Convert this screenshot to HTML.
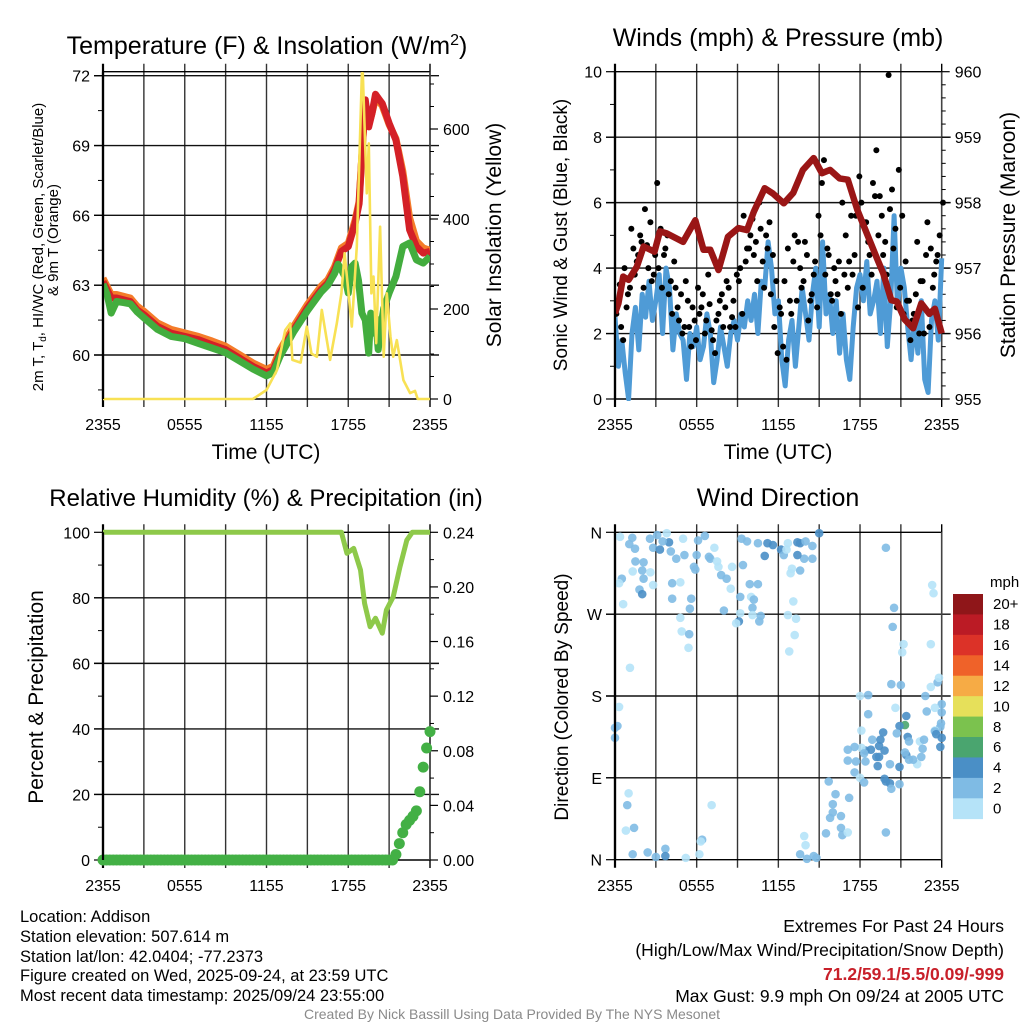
<!DOCTYPE html>
<html><head><meta charset="utf-8"><style>
html,body{margin:0;padding:0;background:#fff;}
svg text{font-family:"Liberation Sans",Arial,sans-serif;fill:#000;}
</style></head><body>
<svg id="chart" width="1024" height="1024" viewBox="0 0 1024 1024" xmlns="http://www.w3.org/2000/svg">
<rect width="1024" height="1024" fill="#fff"/>
<g id="g1"></g>
<g id="g2"></g>
<g id="g3"></g>
<g id="g4"></g>

<text x="267" y="54" font-size="25" text-anchor="middle">Temperature (F) &amp; Insolation (W/m<tspan dy="-9" font-size="16">2</tspan><tspan dy="9">)</tspan></text>
<text x="778" y="46" font-size="25" text-anchor="middle">Winds (mph) &amp; Pressure (mb)</text>
<text x="266" y="506" font-size="24" text-anchor="middle">Relative Humidity (%) &amp; Precipitation (in)</text>
<text x="778" y="506" font-size="25" text-anchor="middle">Wind Direction</text>

<text transform="translate(43,247) rotate(-90)" font-size="15" text-anchor="middle">2m T, T<tspan font-size="10" dy="3">d</tspan><tspan dy="-3">, HI/WC (Red, Green, Scarlet/Blue)</tspan></text>
<text transform="translate(58,240) rotate(-90)" font-size="15" text-anchor="middle">&amp; 9m T (Orange)</text>
<text transform="translate(501,235) rotate(-90)" font-size="21" text-anchor="middle">Solar Insolation (Yellow)</text>
<text transform="translate(567,235) rotate(-90)" font-size="19" text-anchor="middle">Sonic Wind &amp; Gust (Blue, Black)</text>
<text transform="translate(1015,235) rotate(-90)" font-size="21" text-anchor="middle">Station Pressure (Maroon)</text>
<text transform="translate(43,697) rotate(-90)" font-size="21" text-anchor="middle">Percent &amp; Precipitation</text>
<text transform="translate(568,697) rotate(-90)" font-size="19" text-anchor="middle">Direction (Colored By Speed)</text>
<text x="266" y="459" font-size="21" text-anchor="middle">Time (UTC)</text>
<text x="778" y="459" font-size="21" text-anchor="middle">Time (UTC)</text>

<g font-size="16.5">
<text x="20" y="922">Location: Addison</text>
<text x="20" y="942">Station elevation: 507.614 m</text>
<text x="20" y="962">Station lat/lon: 42.0404; -77.2373</text>
<text x="20" y="981">Figure created on Wed, 2025-09-24, at 23:59 UTC</text>
<text x="20" y="1001">Most recent data timestamp: 2025/09/24 23:55:00</text>
</g>
<g font-size="17.5" text-anchor="end">
<text x="1004" y="932">Extremes For Past 24 Hours</text>
<text x="1004" y="956">(High/Low/Max Wind/Precipitation/Snow Depth)</text>
<text x="1004" y="980" font-weight="bold" style="fill:#c8202a">71.2/59.1/5.5/0.09/-999</text>
<text x="1004" y="1002">Max Gust: 9.9 mph On 09/24 at 2005 UTC</text>
</g>
<text x="512" y="1019" font-size="14" text-anchor="middle" style="fill:#8a8a8a">Created By Nick Bassill Using Data Provided By The NYS Mesonet</text>
</svg>
<script>
// ---------- data ----------
const tempTimes=[0,0.3,0.6,1,1.5,2,2.5,3,4,5,6,7,8,9,10,11,12,12.5,13,14,15,16,16.5,17,17.5,18,18.5,18.8,19.05,19.25,19.5,19.75,20,20.25,20.5,21,21.5,22,22.5,23,23.5,24];
const tempF=[63.16,62.8,62.45,62.45,62.37,62.3,61.94,61.73,61.23,60.94,60.8,60.66,60.44,60.23,59.87,59.51,59.23,59.37,60.08,61.09,62.02,62.8,63.09,63.66,64.45,64.66,65.66,66.5,69.1,70.96,69.8,70.4,71.2,71.0,70.8,69.96,69.24,67.67,65.38,64.66,64.38,64.45];
const temp9mF=[63.3,62.95,62.6,62.6,62.52,62.45,62.1,61.88,61.38,61.1,60.95,60.8,60.6,60.38,60.02,59.66,59.38,59.52,60.23,61.24,62.17,62.95,63.24,63.8,64.6,64.8,65.8,66.6,69.1,70.8,69.9,70.4,71.0,70.9,70.7,69.9,69.3,67.9,65.9,64.9,64.6,64.5];
const dewTimes=[0,0.3,0.6,1,1.5,2,2.5,3,4,5,6,7,8,9,10,11,12,12.5,13,14,15,16,16.5,17,17.25,17.5,17.75,18,18.25,18.5,18.75,19,19.25,19.5,19.65,19.85,20,20.2,20.4,20.6,21,21.5,22,22.5,23,23.5,24];
const dewF=[63.05,62.6,61.8,62.3,62.25,62.2,61.85,61.6,61.1,60.8,60.7,60.5,60.3,60.1,59.75,59.4,59.1,59.25,59.95,61.0,61.9,62.7,63.0,63.5,63.9,63.66,63.37,62.66,63.8,63.95,63.2,61.8,61.5,60.08,61.8,60.94,61.6,60.23,61.23,62.0,62.66,63.37,64.66,64.81,64.09,63.95,64.23];
const solarTimes=[0,11,12,12.76,13.37,13.74,13.9,14.5,14.96,15.3,15.7,16.06,16.67,17.16,17.5,17.73,18.26,18.63,19.0,19.07,19.36,19.51,19.7,19.85,20.05,20.34,20.6,20.83,21.1,21.3,21.56,22.05,22.54,22.9,23.1,24];
const solarW=[0,0,20,64,153,168,87,81,161,101,94,198,87,168,235,324,161,339,724,724,457,568,235,272,124,383,94,235,138,94,131,42,13,18,0,0];
const tempTicks=[72,69,66,63,60];
const solarTicks=[0,200,400,600];
const timeLabels=["2355","0555","1155","1755","2355"];

const windSpeed=[2.5,1.0,1.8,0.8,0.0,2.0,2.8,1.5,3.2,2.5,3.6,2.4,3.0,3.8,2.0,4.0,3.4,1.5,2.6,2.0,1.8,0.6,2.0,1.6,2.2,1.2,1.6,2.6,2.0,0.5,1.2,2.2,1.6,1.0,2.0,2.4,1.8,2.6,2.2,3.0,2.4,3.2,2.0,3.6,3.4,4.8,4.0,2.6,3.0,1.2,0.4,1.8,2.4,1.0,2.2,3.4,2.6,1.8,3.2,4.0,2.2,4.8,2.6,3.2,2.0,3.0,1.4,2.6,1.2,0.6,2.2,3.4,3.8,3.0,4.2,2.6,3.0,3.6,2.0,4.0,1.6,3.0,5.6,2.8,4.0,3.4,2.2,1.2,2.4,1.4,3.0,0.6,0.2,2.4,3.0,1.8,4.3];
const windGust=[2.6,3.5,1.8,2.8,3.4,4.6,4.2,5.0,3.4,4.7,5.4,3.8,6.6,5.2,4.4,5.0,3.6,4.2,2.8,3.2,2.2,3.0,1.6,2.4,3.4,2.8,2.0,3.8,2.1,1.4,2.6,3.2,2.8,3.4,2.5,2.2,3.6,2.6,4.2,4.6,5.5,4.8,6.0,4.2,5.0,5.4,4.4,3.6,2.8,1.6,1.2,3.0,4.2,3.0,4.0,3.6,4.4,3.0,3.8,2.8,5.0,7.3,4.6,3.2,4.0,3.2,2.6,3.8,3.4,5.6,4.4,2.8,6.0,5.4,4.8,3.8,6.2,5.0,5.6,4.8,9.9,6.4,5.2,7.0,5.6,4.2,3.0,2.4,3.2,2.0,3.6,4.4,2.2,3.4,4.2,5.0,6.0];
const windGust2=[3.0,2.2,4.0,3.2,5.2,3.8,4.4,4.8,5.8,4.0,3.6,4.4,4.0,3.4,4.6,3.2,2.6,3.4,2.4,2.0,3.6,2.2,2.8,1.8,2.6,3.2,2.4,2.9,1.8,2.4,3.0,2.2,3.6,2.2,3.0,3.8,4.0,5.6,4.6,5.0,4.4,3.6,5.2,3.4,4.6,3.2,2.2,1.4,2.6,3.6,4.6,2.6,5.0,4.8,3.4,4.8,2.4,3.2,4.2,5.6,6.6,3.8,4.4,3.0,3.6,4.2,6.0,5.0,4.2,3.8,5.6,6.8,3.4,5.4,4.4,6.6,7.6,6.2,4.4,3.8,5.8,4.6,2.8,3.4,2.6,3.0,1.8,2.6,4.8,3.6,2.0,5.4,4.6,3.8,4.4];
const pressTimes=[0,0.25,0.6,1,1.6,2.1,2.9,3.3,3.8,5.0,5.9,6.5,7.0,7.6,8.3,9.06,9.7,10.2,11.0,11.6,12.4,13.1,13.8,14.6,15.2,15.8,16.5,17.1,17.8,18.5,19.2,19.7,20.3,20.7,21.3,21.9,22.5,23.1,23.5,24];
const pressMb=[956.31,956.46,956.87,956.82,957.02,957.33,957.25,957.56,957.53,957.4,957.73,957.28,957.28,956.97,957.48,957.61,957.58,957.86,958.22,958.14,957.99,958.15,958.5,958.68,958.45,958.5,958.37,958.35,957.89,957.53,957.17,956.92,956.51,956.49,956.21,956.08,956.46,956.3,956.38,956.0];
const windTicks=[0,2,4,6,8,10];
const pressTicks=[955,956,957,958,959,960];

const rhTimes=[0,17.5,17.9,18.4,18.9,19.2,19.6,20.0,20.5,20.8,21.3,21.8,22.3,22.7,24];
const rhPct=[100,100,93.6,95.1,88.5,78.3,71.2,73.8,69.2,76.3,80.3,89.5,97.6,100,100];
const precipIn=[0,0,0,0,0,0,0,0,0,0,0,0,0,0,0,0,0,0,0,0,
0,0,0,0,0,0,0,0,0,0,0,0,0,0,0,0,0,0,0,0,
0,0,0,0,0,0,0,0,0,0,0,0,0,0,0,0,0,0,0,0,
0,0,0,0,0,0,0,0,0,0,0,0,0,0,0,0,0,0,0,0,
0,0,0,0,0,0,0.004,0.012,0.02,0.026,0.029,0.032,0.036,0.05,0.068,0.082,0.094];
const rhTicks=[0,20,40,60,80,100];
const precipTicks=["0.00","0.04","0.08","0.12","0.16","0.20","0.24"];

const dirTimes=[0.37,1.27,1.05,1.47,2.57,3.1,3.8,3.97,2.8,3.3,3.5,4.1,4.5,5.1,6.1,6.6,5.0,6.0,7.0,7.5,7.6,7.8,8.2,8.6,8.5,1.5,2.1,1.3,2.0,2.6,2.1,0.5,0.3,1.8,2.0,2.8,4.2,4.8,0.6,4.2,5.6,5.5,4.8,4.9,5.45,5.4,5.8,5.9,6.9,7.3,9.3,9.7,10.5,11.2,11.6,11.0,12.2,12.4,12.7,12.6,13.4,13.6,14.0,14.5,13.9,13.4,14.5,15.0,13.6,12.9,13.0,9.4,9.9,10.5,9.2,10.0,10.2,10.1,10.7,10.6,10.1,9.2,9.1,8.9,8.0,13.1,12.7,13.3,13.2,12.8,19.9,20.5,20.4,21.2,21.1,23.3,23.4,23.2,1.1,
20.3,21.0,18.6,18.0,20.6,18.6,21.4,21.3,20.9,20.7,21.5,21.6,22.4,22.7,22.8,23.2,23.7,23.8,24.0,23.5,24.0,22.9,23.95,23.9,23.5,23.5,23.6,24.0,23.9,22.6,22.5,22.2,21.9,21.4,21.6,21.3,18.1,18.9,19.5,19.7,19.4,19.8,18.8,18.4,18.1,17.6,17.1,18.3,17.1,17.7,18.4,19.2,19.4,19.3,20.2,20.9,17.6,18.0,19.8,20.2,19.9,20.9,20.3,18.3,15.7,16.2,16.0,17.2,16.0,15.8,16.6,16.6,16.7,17.1,15.5,19.9,13.9,14.0,13.6,14.1,14.6,14.8,
1.0,0.9,0.8,1.4,1.3,2.4,3.0,3.7,3.7,5.2,6.2,6.4,6.3,7.1,0.3,0.18,0.0,0.0];
const dirDeg=[355,354,347,342,353,357,359,349,343,341,350,339,331,335,351,356,353,335,331,328,322,313,309,322,298,328,327,317,318,316,309,309,304,297,292,302,304,305,281,287,287,276,266,251,248,233,322,319,333,343,353,350,348,348,346,334,341,335,348,341,349,348,350,345,331,335,331,359,318,315,320,324,303,303,289,289,286,277,268,262,269,271,262,260,274,284,269,265,247,229,343,277,256,237,228,302,293,237,211,
193,192,181,180,167,160,158,148,147,139,135,130,130,132,180,190,195,200,171,167,162,163,150,146,142,141,138,134,124,122,113,105,110,115,110,118,142,132,132,140,125,120,121,120,123,124,121,117,109,108,108,113,113,103,105,102,96,90,89,84,86,83,78,85,86,72,61,68,52,46,48,35,27,30,29,30,26,16,6,1,4,2,
73,60,32,35,6,8,3,12,4,2,6,22,20,60,168,147,145,134];
const dirSpeed=[1,3,2.5,3,3,3.5,1.5,5,3,4.5,3,3,3,3,3,3,1.5,3,3.5,1.5,1.5,3,3,1.5,1.5,3,3,1.5,3,1.5,3,3,1.5,3,4.5,1.5,3,1.5,1.5,3,3,3,1.5,1.5,3,1.5,3,3,3,1.5,3,3,3,5,5,4.5,4.5,3,1.5,1.5,4.5,5,3,3,3,4.5,3,5,3,1.5,1.5,3,3,3,3,1.5,3,3,3,3,1.5,1.5,4.5,1.5,3,1.5,1.5,1.5,1.5,1.5,3,3,3,1.5,1.5,1.5,1.5,1.5,1.5,
3,3,3,1.5,1.5,3,4.5,7,4.5,3,5,3,1.5,3,3,1.5,3,1.5,3,1.5,3,3,3,3,1.5,3,5,5,5,3,3,1.5,3,5,3,3,1.5,3,4.5,5,4.5,5,4.5,4.5,1.5,3,3,3,3,3,3,4.5,4.5,4.5,3,5,3,1.5,4.5,4.5,4.5,3,3,3,3,3,3,3,3,3,3,3,3,1.5,3,3,1.5,1.5,3,3,3,3,
1.5,3,1.5,3,3,3,3,3,4.5,1.5,1.5,3,1.5,1.5,1.5,3,3,3];
const dirLabels=["N","E","S","W","N"];
const cbLabels=["0","2","4","6","8","10","12","14","16","18","20+"];
const cbColors=["#b5e3f8","#7fbbe4","#4a8fc6","#4aa56f","#7bc24e","#e6e05a","#f6ab45","#ef6229","#dc3228","#bb1b25","#8f1619"];

// ---------- helpers ----------
const NS="http://www.w3.org/2000/svg";
function mk(parent,tag,attrs){const e=document.createElementNS(NS,tag);for(const k in attrs)e.setAttribute(k,attrs[k]);parent.appendChild(e);return e;}
function lin(d0,d1,r0,r1){return v=>r0+(v-d0)/(d1-d0)*(r1-r0);}
function pathFrom(xs,ys,sx,sy){let d="";for(let i=0;i<xs.length;i++){d+=(i?"L":"M")+sx(xs[i]).toFixed(1)+","+sy(ys[i]).toFixed(1);}return d;}
function txt(parent,x,y,s,size,anchor){const t=mk(parent,"text",{x:x,y:y,"font-size":size,"text-anchor":anchor});t.textContent=s;return t;}

function frame(g,x0,x1,y0,y1,hLines,xlabY){
  const sx=lin(0,24,x0,x1);
  for(let h=0;h<=24;h+=3){
    const x=sx(h);
    const l=mk(g,"line",{x1:x,y1:y0-8,x2:x,y2:y1+8,stroke:(h===0||h===24)?"#000":"#333","stroke-width":(h===0?2.2:1.4)});
    
    
  }
  hLines.forEach(y=>{const l=mk(g,"line",{x1:x0-9,y1:y,x2:x1+9,y2:y,stroke:"#111","stroke-width":1.4});
    
    });
  mk(g,"line",{x1:x0,y1:y0,x2:x1,y2:y0,stroke:"#000","stroke-width":1.4});
  mk(g,"line",{x1:x0,y1:y1,x2:x1,y2:y1,stroke:"#000","stroke-width":1.4});
  mk(g,"line",{x1:x1,y1:y0,x2:x1,y2:y1,stroke:"#444","stroke-width":1.6});
  timeLabels.forEach((s,i)=>{const t=txt(g,sx(i*6),xlabY,s,16,"middle");
    
    });
  return sx;
}
function leftTicks(g,x0,vals,sy,labels,minor){
  vals.forEach((v,i)=>{const y=sy(v);mk(g,"line",{x1:x0-9,y1:y,x2:x0,y2:y,stroke:"#000","stroke-width":1.2});
    const t=txt(g,x0-13,y+6,labels?labels[i]:String(v),16,"end");
    
    });
  (minor||[]).forEach(v=>{const y=sy(v);mk(g,"line",{x1:x0-5,y1:y,x2:x0,y2:y,stroke:"#000","stroke-width":1});});
}
function rightTicks(g,x1,vals,sy,labels,minor){
  vals.forEach((v,i)=>{const y=sy(v);mk(g,"line",{x1:x1,y1:y,x2:x1+8,y2:y,stroke:"#000","stroke-width":1.2});
    const t=txt(g,x1+13,y+6,labels?labels[i]:String(v),16,"start");
    
    });
  (minor||[]).forEach(v=>{const y=sy(v);mk(g,"line",{x1:x1,y1:y,x2:x1+4,y2:y,stroke:"#000","stroke-width":1});});
}

// ---------- panel 1 ----------
(function(){
  const g=document.getElementById("g1");
  const x0=103,x1=430,y0=71.7,y1=399;
  const sy=lin(72,60,75.7,355);
  const sSol=lin(0,600,399,129);
  const sx=frame(g,x0,x1,y0,y1,tempTicks.map(sy),430);
  leftTicks(g,x0,tempTicks,sy,null,[70.5,67.5,64.5,61.5,58.5]);
  rightTicks(g,x1,solarTicks,sSol,null,[50,100,150,250,300,350,450,500,550,650,700]);
  const clip=mk(g,"clipPath",{id:"c1"});mk(clip,"rect",{x:x0,y:y0,width:x1-x0,height:y1-y0+2});
  const pg=mk(g,"g",{"clip-path":"url(#c1)"});
  const o=mk(pg,"path",{d:pathFrom(tempTimes,temp9mF,sx,sy),fill:"none",stroke:"#f47c2a","stroke-width":7,"stroke-linejoin":"round"});
  
  
  const r=mk(pg,"path",{d:pathFrom(tempTimes,tempF,sx,sy),fill:"none",stroke:"#d42027","stroke-width":7,"stroke-linejoin":"round"});
  
  
  const gr=mk(pg,"path",{d:pathFrom(dewTimes,dewF,sx,sy),fill:"none",stroke:"#43ad3e","stroke-width":7,"stroke-linejoin":"round"});
  
  
  const s=mk(pg,"path",{d:pathFrom(solarTimes,solarW,sx,sSol),fill:"none",stroke:"#f8e154","stroke-width":2.6,"stroke-linejoin":"round"});
  
  
  mk(g,"line",{x1:x0,y1:y0,x2:x0,y2:y1,stroke:"#000","stroke-width":2.2});
})();

// ---------- panel 2 ----------
(function(){
  const g=document.getElementById("g2");
  const x0=615,x1=941.7,y0=71.7,y1=399;
  const sy=lin(0,10,399,71.7);
  const sp=lin(955,960,399,71.7);
  const sx=frame(g,x0,x1,y0,y1,[2,4,6,8].map(sy),430);
  leftTicks(g,x0,windTicks,sy,null,[1,3,5,7,9]);
  const mn=[];for(let i=0;i<25;i++){if(i%5)mn.push(955+i*0.2);}
  rightTicks(g,x1,pressTicks,sp,null,mn);
  const clip=mk(g,"clipPath",{id:"c2"});mk(clip,"rect",{x:x0,y:y0-6,width:x1-x0+4,height:y1-y0+8});
  const pg=mk(g,"g",{"clip-path":"url(#c2)"});
  const wt=windSpeed.map((v,i)=>i*0.25);
  const w=mk(pg,"path",{d:pathFrom(wt,windSpeed,sx,sy),fill:"none",stroke:"#4f9bd6","stroke-width":5,"stroke-linejoin":"round"});
  
  
  windGust.forEach((v,i)=>{const c=mk(pg,"circle",{cx:sx(i*0.25+0.1),cy:sy(v),r:3,fill:"#000"});
    
    });
  windGust2.forEach((v,i)=>{const c=mk(pg,"circle",{cx:sx(i*0.25+0.2),cy:sy(v),r:3,fill:"#000"});
    
    });
  const p=mk(pg,"path",{d:pathFrom(pressTimes,pressMb,sx,sp),fill:"none",stroke:"#9a1616","stroke-width":6.5,"stroke-linejoin":"round"});
  
  
  mk(g,"line",{x1:x0,y1:y0,x2:x0,y2:y1,stroke:"#000","stroke-width":2.2});
})();

// ---------- panel 3 ----------
(function(){
  const g=document.getElementById("g3");
  const x0=103,x1=430,y0=532.3,y1=860;
  const sy=lin(0,100,860,532.3);
  const spr=lin(0,0.24,860,532.3);
  const sx=frame(g,x0,x1,y0,y1,[20,40,60,80].map(sy),891);
  leftTicks(g,x0,rhTicks,sy,null,[10,30,50,70,90]);
  rightTicks(g,x1,precipTicks.map(Number),spr,precipTicks,[0.02,0.06,0.1,0.14,0.18,0.22]);
  const clip=mk(g,"clipPath",{id:"c3"});mk(clip,"rect",{x:x0-8,y:y0-4,width:x1-x0+16,height:y1-y0+12});
  const pg=mk(g,"g",{"clip-path":"url(#c3)"});
  const r=mk(pg,"path",{d:pathFrom(rhTimes,rhPct,sx,sy),fill:"none",stroke:"#8ec94a","stroke-width":5,"stroke-linejoin":"round"});
  
  
  precipIn.forEach((v,i)=>{const c=mk(pg,"circle",{cx:sx(i*0.25),cy:spr(v),r:5.5,fill:"#43b045"});
    
    });
  mk(g,"line",{x1:x0,y1:y0,x2:x0,y2:y1,stroke:"#000","stroke-width":2.2});
})();

// ---------- panel 4 ----------
(function(){
  const g=document.getElementById("g4");
  const x0=615,x1=941.7,y0=532.3,y1=859.7;
  const sy=lin(0,360,859.7,532.3);
  const sx=frame(g,x0,x1,y0,y1,[90,180,270].map(sy),891);
  leftTicks(g,x0,[0,90,180,270,360],sy,dirLabels,[]);
  function col(s){let k=Math.floor(s/2);if(k>10)k=10;if(k<0)k=0;return cbColors[k];}
  dirTimes.forEach((t,i)=>{const c=mk(g,"circle",{cx:sx(t),cy:sy(dirDeg[i]),r:4.3,fill:col(dirSpeed[i]),"fill-opacity":0.9});
    
    });
  mk(g,"line",{x1:x0,y1:y0,x2:x0,y2:y1,stroke:"#000","stroke-width":2.2});
  const cb=mk(g,"g",{});
  
  
  const top=594,h=20.43;
  for(let k=0;k<cbColors.length;k++){
    const idx=cbColors.length-1-k;
    mk(cb,"rect",{x:953,y:top+k*h,width:30,height:h+0.4,fill:cbColors[idx]});
    const t=txt(cb,993,top+k*h+h/2+5,cbLabels[idx],15,"start");
    
    
  }
  const m=txt(cb,990,587,"mph",15,"start");
  
  
})();
</script>
</body></html>
